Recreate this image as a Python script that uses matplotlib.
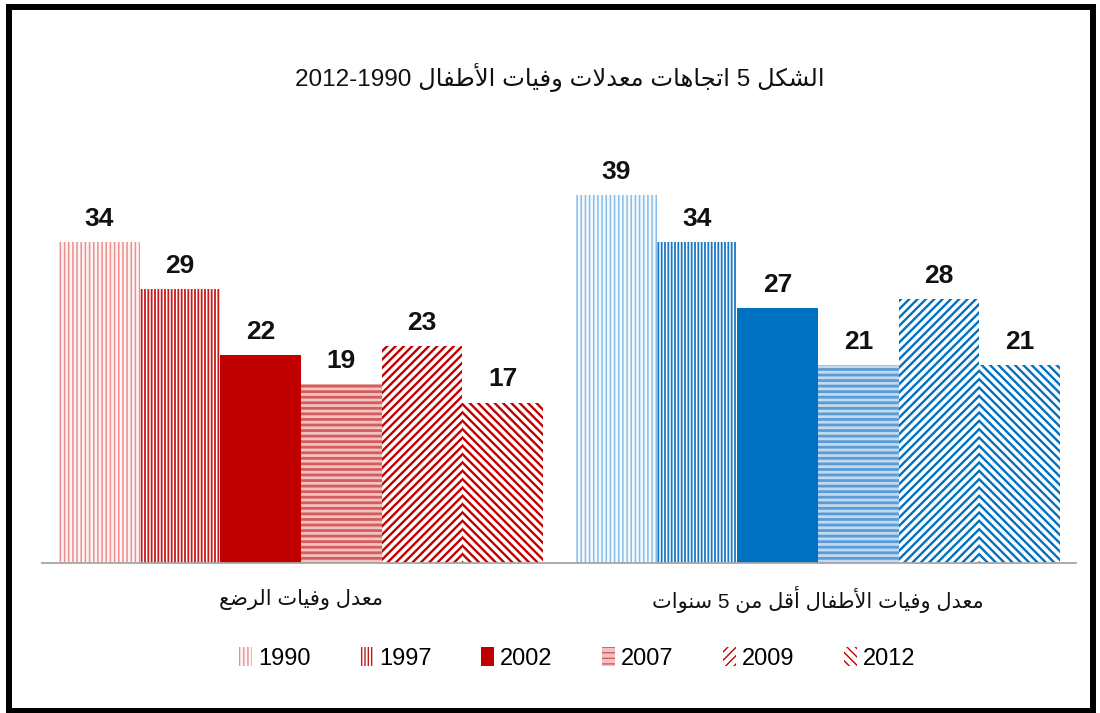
"""Child mortality trends 1990-2012: grouped hatched bars (Arabic labels).

    python3 plot.py   -> out.png
"""

from __future__ import annotations

import re

import matplotlib

matplotlib.use("Agg")            # render to a file without a display
import matplotlib.pyplot as plt  # noqa: E402
from matplotlib.patches import Rectangle  # noqa: E402

TITLE = "الشكل 5 اتجاهات معدلات وفيات الأطفال 1990-2012"
CATEGORIES = ["معدل وفيات الرضع", "معدل وفيات الأطفال أقل من 5 سنوات"]
YEARS = ["1990", "1997", "2002", "2007", "2009", "2012"]
INFANT = [34, 29, 22, 19, 23, 17]        # left group (red)
UNDER_FIVE = [39, 34, 27, 21, 28, 21]    # right group (blue)

# --- minimal Arabic shaping: presentation forms + right-to-left order -------
BASE = {"ا": 0xFE8D, "أ": 0xFE83, "د": 0xFEA9, "ر": 0xFEAD, "و": 0xFEED,
        "ت": 0xFE95, "ج": 0xFE9D, "س": 0xFEB1, "ش": 0xFEB5, "ض": 0xFEBD,
        "ط": 0xFEC1, "ع": 0xFEC9, "ف": 0xFED1, "ق": 0xFED5, "ك": 0xFED9,
        "ل": 0xFEDD, "م": 0xFEE1, "ن": 0xFEE5, "ه": 0xFEE9, "ي": 0xFEF1}
RIGHT_ONLY = set("اأدرو")
LAM_ALEF = {"ا": 0xFEFB, "أ": 0xFEF7}


def rtl(text: str) -> str:
    """Shape Arabic letters and put the string in visual (left-to-right) order."""
    out, prev_joins, i = [], False, 0
    while i < len(text):
        ch = text[i]
        nxt = text[i + 1] if i + 1 < len(text) else ""
        if ch not in BASE:
            out.append(ch)
            prev_joins = False
            i += 1
            continue
        if ch == "ل" and nxt in LAM_ALEF:
            out.append(chr(LAM_ALEF[nxt] + prev_joins))
            prev_joins = False
            i += 2
            continue
        joins_next = ch not in RIGHT_ONLY and nxt in BASE
        if prev_joins and joins_next:
            form = 3
        elif prev_joins:
            form = 1
        elif joins_next:
            form = 2
        else:
            form = 0
        out.append(chr(BASE[ch] + form))
        prev_joins = joins_next
        i += 1
    tokens = re.findall(r"[0-9]+|.", "".join(out))
    return "".join(reversed(tokens))


FONT = ["Liberation Sans", "DejaVu Sans"]

# per-year style: facecolor, hatch, hatch colour, hatch width
RED = {"1990": ("#FFF4F4", "||||", "#EE8E8E", 1.1),
       "1997": ("white", "|||||", "#C81A1A", 1.3),
       "2002": ("#C00000", None, "#C00000", 1.0),
       "2007": ("#F2C2C2", "---", "#D45C5C", 2.0),
       "2009": ("white", "////", "#C00000", 1.7),
       "2012": ("white", "\\\\\\\\", "#C00000", 1.7)}
BLUE = {"1990": ("#F4F9FE", "||||", "#88BDEA", 1.1),
        "1997": ("white", "|||||", "#1A78C4", 1.3),
        "2002": ("#0070C0", None, "#0070C0", 1.0),
        "2007": ("#C0DAF1", "---", "#5C9CD4", 2.0),
        "2009": ("white", "////", "#0070C0", 1.7),
        "2012": ("white", "\\\\\\\\", "#0070C0", 1.7)}


def render(out_path: str) -> None:
    fig = plt.figure(figsize=(11, 7.13), dpi=100)
    ax = fig.add_axes([0.0386, 0.2104, 0.94, 0.5958])
    width = 0.156
    legend_handles = []
    for k, year in enumerate(YEARS):
        offset = (k - 2.5) * width
        for xc, values, styles in ((0, INFANT, RED), (1, UNDER_FIVE, BLUE)):
            face, hatch, hcol, hlw = styles[year]
            bars = ax.bar(xc + offset, values[k], width, color=face, hatch=hatch,
                          edgecolor=hcol, linewidth=0, label=year if xc == 0 else None)
            for b in bars:
                if hasattr(b, "set_hatch_linewidth"):
                    b.set_hatch_linewidth(hlw)
            ax.bar_label(bars, padding=8, fontsize=19, fontweight="bold",
                         family=FONT, color="#111111")
            if xc == 0:
                legend_handles.append(bars)

    ax.set_xlim(-0.5, 1.5)
    ax.set_ylim(0, 45)
    ax.set_yticks([])
    ax.set_xticks([0, 1])
    ax.set_xticklabels([rtl(c) for c in CATEGORIES], family=FONT, fontsize=15,
                       color="#111111", va="center")
    ax.tick_params(axis="x", length=0, pad=26)
    for side in ("left", "right", "top"):
        ax.spines[side].set_visible(False)
    ax.spines["bottom"].set_color("#A6A6A6")
    ax.spines["bottom"].set_linewidth(1.3)

    fig.text(0.509, 0.892, rtl(TITLE), ha="center", va="center",
             fontsize=17.5, family=FONT, color="#111111")
    fig.legend(legend_handles, YEARS, loc="center", bbox_to_anchor=(0.525, 0.077),
               ncol=6, frameon=False, prop={"family": FONT, "size": 17},
               handlelength=0.55, handleheight=0.9, handletextpad=0.25,
               columnspacing=2.1)
    fig.patches.append(Rectangle((0.0082, 0.003), 0.9855, 0.9874, transform=fig.transFigure,
                                 fill=False, edgecolor="black", linewidth=4.3))
    fig.savefig(out_path, dpi=100)
    plt.close(fig)


def main() -> None:
    render("out.png")
    print("Written: out.png")


if __name__ == "__main__":
    main()
